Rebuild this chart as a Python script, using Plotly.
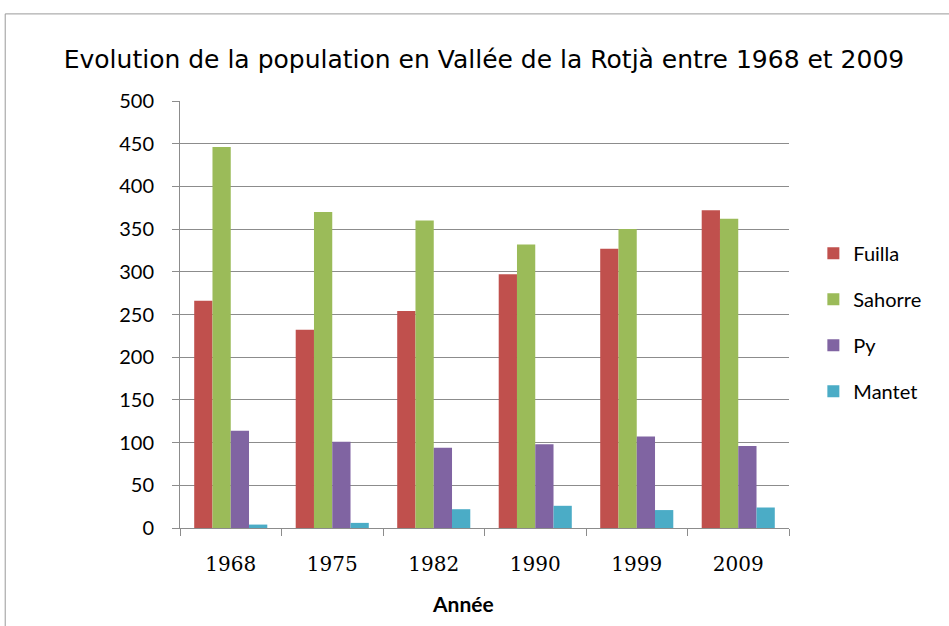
import plotly.graph_objects as go

# Census years and population per village
years = ["1968", "1975", "1982", "1990", "1999", "2009"]
fuilla = [266, 232, 254, 297, 327, 372]
sahorre = [446, 370, 360, 332, 350, 362]
py = [114, 101, 94, 98, 107, 96]
mantet = [4, 6, 22, 26, 21, 24]

series = [
    ("Fuilla", fuilla, "#C0504D"),
    ("Sahorre", sahorre, "#9BBB59"),
    ("Py", py, "#8064A2"),
    ("Mantet", mantet, "#4BACC6"),
]

y_ticks = list(range(0, 501, 50))

fig = go.Figure()
for name, values, color in series:
    fig.add_trace(go.Bar(
        x=years, y=values, name=name, legendgroup=name,
        marker=dict(color=color, line=dict(width=0)),
    ))

grid = "#8C8C8C"
fig.update_layout(
    width=949, height=626,
    margin=dict(l=180, r=160, t=101, b=98),
    paper_bgcolor="white", plot_bgcolor="white",
    barmode="group", bargap=0.28, bargroupgap=0,
    font=dict(family="Lato", color="black"),
    title=dict(
        text="Evolution de la population en Vallée de la Rotjà entre 1968 et 2009",
        font=dict(family="DejaVu Sans", size=25, color="black"),
        x=0.51, xanchor="center", y=0.905, yanchor="middle", yref="container",
    ),
    xaxis=dict(
        type="category", tickson="boundaries", ticks="outside", ticklen=7,
        tickcolor=grid, showline=True, linecolor=grid, linewidth=1,
        tickfont=dict(family="DejaVu Serif", size=20, color="black"),
        ticklabelstandoff=18,
        showgrid=False,
    ),
    yaxis=dict(
        range=[0, 500], tickvals=y_ticks, ticks="outside", ticklen=7,
        tickcolor=grid, showline=True, linecolor=grid, linewidth=1,
        showgrid=True, gridcolor=grid, gridwidth=1, zeroline=False,
        tickfont=dict(family="Lato", size=20, color="black"),
        ticklabelstandoff=14,
    ),
    legend=dict(
        x=1.04, xanchor="left", y=0.482, yanchor="middle",
        font=dict(family="Lato", size=20, color="black"),
        tracegroupgap=17, itemwidth=30,
    ),
    annotations=[dict(
        text="<b>Année</b>", xref="paper", yref="paper",
        x=(463 - 180) / 609, y=(528 - 603) / 427,
        xanchor="center", yanchor="middle", showarrow=False,
        font=dict(family="Lato", size=21, color="black"),
    )],
    shapes=[dict(
        type="rect", xref="paper", yref="paper",
        x0=-0.287, x1=1.3, y0=-0.4, y1=1.204,
        line=dict(color="#9A9A9A", width=1), fillcolor="rgba(0,0,0,0)", layer="below",
    )],
)

fig.write_html("out.html")
